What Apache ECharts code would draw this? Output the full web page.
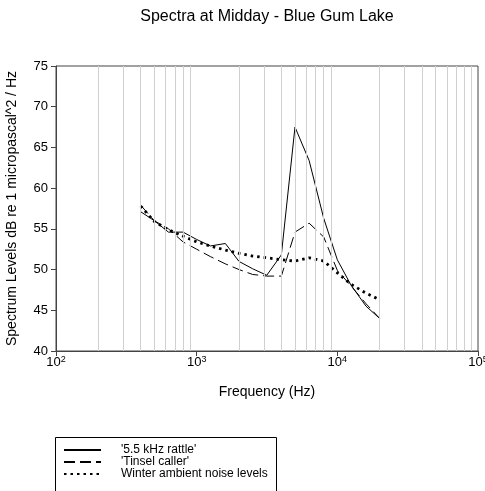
<!DOCTYPE html>
<html>
<head>
<meta charset="utf-8">
<script src="https://cdn.jsdelivr.net/npm/echarts@6/dist/echarts.min.js"></script>
<style>
html,body{margin:0;padding:0;background:#fff;}
#chart{width:485px;height:491px;}
</style>
</head>
<body>
<div id="chart"></div>
<script>
var frequencies = [400, 500, 630, 800, 1000, 1250, 1600, 2000, 2500, 3150, 4000, 5000, 6300, 8000, 10000, 12500, 16000, 20000];
var rattle  = [57.1, 56.0, 54.6, 54.6, 53.7, 52.9, 53.2, 51.0, 50.1, 49.3, 51.8, 67.5, 63.4, 56.3, 51.2, 48.1, 45.5, 44.0];
var tinsel  = [57.9, 56.0, 55.0, 53.4, 52.5, 51.6, 50.7, 50.0, 49.4, 49.2, 49.2, 54.6, 55.7, 54.0, 49.9, 48.0, 45.8, 44.0];
var ambient = [57.8, 55.9, 54.9, 54.1, 53.4, 52.9, 52.4, 52.0, 51.65, 51.45, 51.2, 51.05, 51.45, 51.05, 49.6, 48.2, 47.1, 46.3];
var seriesNames = ["'5.5 kHz rattle'", "'Tinsel caller'", "Winter ambient noise levels"];
var minorGrid = [200, 300, 400, 500, 600, 700, 800, 900, 2000, 3000, 4000, 5000, 6000, 7000, 8000, 9000, 20000, 30000, 40000, 50000, 60000, 70000, 80000, 90000];
var yTicks = {min: 40, max: 75, interval: 5};
var xRange = {min: 100, max: 100000};

function pairs(vals) { return frequencies.map(function (f, i) { return [f, vals[i]]; }); }

var chart = echarts.init(document.getElementById('chart'), null, {renderer: 'canvas'});
var font = 'Liberation Sans, Arial, sans-serif';
chart.setOption({
  animation: false,
  backgroundColor: '#fff',
  textStyle: {fontFamily: font},
  title: {
    text: 'Spectra at Midday - Blue Gum Lake',
    left: 267, top: 9, padding: 0, textAlign: 'center',
    textStyle: {fontSize: 16, fontWeight: 'normal', color: '#000', fontFamily: font}
  },
  grid: {left: 56, right: 7, top: 66, height: 285, outerBoundsMode: 'none', containLabel: false,
         show: true, borderColor: '#444', borderWidth: 1, backgroundColor: 'transparent'},
  xAxis: {
    type: 'log', logBase: 10, min: xRange.min, max: xRange.max, splitNumber: 3,
    name: 'Frequency (Hz)', nameLocation: 'middle', nameGap: 34,
    nameTextStyle: {fontSize: 14, color: '#000', fontFamily: font},
    axisLine: {show: true, lineStyle: {color: '#444', width: 1}},
    axisTick: {show: true, length: 5, lineStyle: {color: '#444'}},
    splitLine: {show: false},
    axisLabel: {
      margin: 4, color: '#000', fontSize: 13, fontFamily: font,
      formatter: function (v) { var e = Math.round(Math.log10(v)); return '{b|10}{s|' + e + '}'; },
      rich: {
        b: {fontSize: 13, lineHeight: 14, verticalAlign: 'bottom', color: '#000', fontFamily: font},
        s: {fontSize: 9, lineHeight: 14, verticalAlign: 'top', padding: [0, 0, 4, 0], color: '#000', fontFamily: font}
      }
    }
  },
  yAxis: {
    type: 'value', min: yTicks.min, max: yTicks.max, interval: yTicks.interval,
    name: 'Spectrum Levels dB re 1 micropascal^2 / Hz', nameLocation: 'middle', nameGap: 37,
    nameTextStyle: {fontSize: 14, color: '#000', fontFamily: font},
    axisLine: {show: true, lineStyle: {color: '#444', width: 1}},
    axisTick: {show: true, length: 5, lineStyle: {color: '#444'}},
    splitLine: {show: false},
    axisLabel: {margin: 8, color: '#000', fontSize: 13, fontFamily: font}
  },
  legend: {
    data: seriesNames,
    orient: 'vertical', left: 55, top: 437, align: 'left',
    padding: [7, 8, 0, 8],
    itemWidth: 37, itemHeight: 10, itemGap: 0,
    itemStyle: {opacity: 0},
    textStyle: {fontSize: 12, color: '#000', fontFamily: font, padding: [0, 0, 0, 15], lineHeight: 10}
  },
  graphic: [{
    type: 'rect', silent: true, z: 0,
    shape: {x: 55.5, y: 437.5, width: 221, height: 100},
    style: {fill: 'none', stroke: '#000', lineWidth: 1}
  }],
  series: [
    {
      name: 'grid', type: 'line', data: [], silent: true, z: 1,
      markLine: {
        silent: true, symbol: ['none', 'none'], animation: false,
        label: {show: false},
        lineStyle: {color: '#d0d0d0', type: 'solid', width: 1},
        emphasis: {disabled: true},
        data: minorGrid.map(function (f) { return {xAxis: f}; })
      }
    },
    {
      name: seriesNames[0], type: 'line', data: pairs(rattle), symbol: 'none', z: 3,
      lineStyle: {color: '#000', width: 1, type: 'solid'}, itemStyle: {color: '#000'}
    },
    {
      name: seriesNames[1], type: 'line', data: pairs(tinsel), symbol: 'none', z: 3,
      lineStyle: {color: '#000', width: 1, type: [11, 5]}, itemStyle: {color: '#000'}
    },
    {
      name: seriesNames[2], type: 'line', data: pairs(ambient), symbol: 'none', z: 3,
      lineStyle: {color: '#000', width: 2.8, type: [2.5, 4], cap: 'butt'}, itemStyle: {color: '#000'}
    }
  ]
});
</script>
</body>
</html>
